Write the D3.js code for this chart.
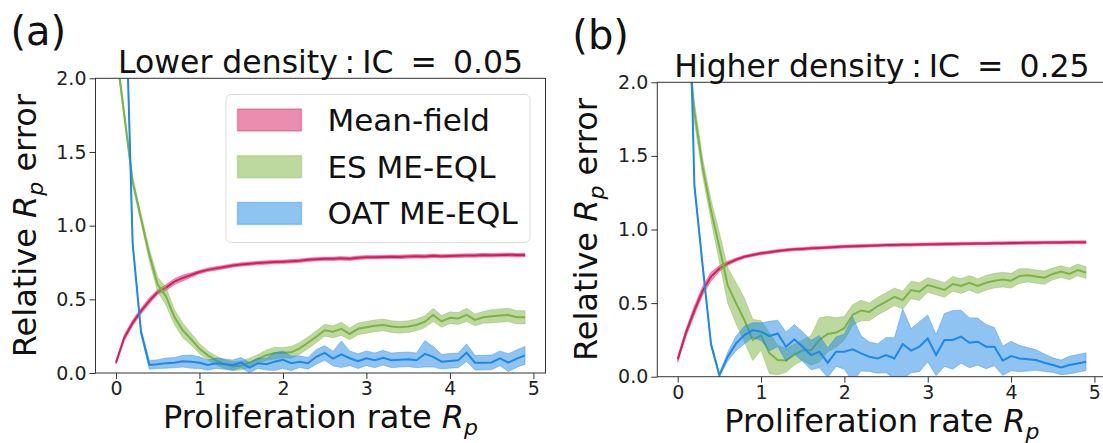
<!DOCTYPE html>
<html>
<head>
<meta charset="utf-8">
<script src="https://cdn.jsdelivr.net/npm/d3@7"></script>
<style>
  body { margin: 0; background: #fff; }
  svg { font-family: "DejaVu Sans", sans-serif; }
</style>
</head>
<body>
<svg id="chart" width="1103" height="443"></svg>
<script>
// proliferation rate grid
const rp = [0, 0.1, 0.2, 0.3, 0.4, 0.5, 0.6, 0.7, 0.8, 0.9,
  1.0, 1.1, 1.2, 1.3, 1.4, 1.5, 1.6, 1.7, 1.8, 1.9,
  2.0, 2.1, 2.2, 2.3, 2.4, 2.5, 2.6, 2.7, 2.8, 2.9,
  3.0, 3.1, 3.2, 3.3, 3.4, 3.5, 3.6, 3.7, 3.8, 3.9,
  4.0, 4.1, 4.2, 4.3, 4.4, 4.5, 4.6, 4.7, 4.8, 4.9];

const xTicks = [0, 1, 2, 3, 4, 5];
const yTicks = [0, 0.5, 1.0, 1.5, 2.0];
const seriesNames = ["Mean-field", "ES ME-EQL", "OAT ME-EQL"];
const seriesColors = ["#D81B60", "#7CB342", "#1E88E5"];

// (a) IC = 0.05
const mfA = [0.07, 0.24, 0.34, 0.42, 0.49, 0.55, 0.58, 0.62, 0.645, 0.665,
  0.685, 0.70, 0.71, 0.72, 0.73, 0.737, 0.742, 0.746, 0.75, 0.753,
  0.755, 0.758, 0.762, 0.768, 0.772, 0.775, 0.776, 0.778, 0.776, 0.782,
  0.785, 0.786, 0.787, 0.789, 0.788, 0.79, 0.792, 0.791, 0.795, 0.793,
  0.794, 0.796, 0.797, 0.797, 0.80, 0.799, 0.801, 0.802, 0.80, 0.80];
const mfAErr = [0.01, 0.02, 0.02, 0.02, 0.02, 0.015, 0.02, 0.02, 0.02, 0.015,
  0.012, 0.012, 0.012, 0.012, 0.012, 0.012, 0.012, 0.012, 0.012, 0.012,
  0.012, 0.012, 0.012, 0.012, 0.012, 0.012, 0.012, 0.012, 0.012, 0.012,
  0.012, 0.012, 0.012, 0.012, 0.012, 0.012, 0.012, 0.012, 0.012, 0.012,
  0.012, 0.012, 0.012, 0.012, 0.012, 0.012, 0.012, 0.012, 0.012, 0.012];
const esA = [2.2, 1.75, 1.3, 1.05, 0.8, 0.6, 0.52, 0.38, 0.29, 0.23,
  0.165, 0.12, 0.085, 0.06, 0.045, 0.05, 0.07, 0.095, 0.12, 0.135,
  0.138, 0.14, 0.167, 0.205, 0.246, 0.29, 0.28, 0.30, 0.265, 0.30,
  0.31, 0.32, 0.326, 0.315, 0.31, 0.315, 0.326, 0.348, 0.394, 0.35,
  0.375, 0.37, 0.394, 0.36, 0.378, 0.385, 0.39, 0.394, 0.378, 0.378];
const esAErr = [0.05, 0.03, 0.03, 0.03, 0.04, 0.05, 0.06, 0.05, 0.05, 0.04,
  0.035, 0.03, 0.03, 0.03, 0.03, 0.03, 0.03, 0.03, 0.035, 0.04,
  0.035, 0.04, 0.04, 0.04, 0.04, 0.04, 0.04, 0.045, 0.04, 0.04,
  0.04, 0.04, 0.04, 0.04, 0.04, 0.04, 0.04, 0.04, 0.045, 0.04,
  0.04, 0.04, 0.045, 0.04, 0.04, 0.045, 0.045, 0.045, 0.045, 0.045];
const oatA = [5.0, 2.9, 0.88, 0.28, 0.055, 0.06, 0.067, 0.07, 0.08, 0.077,
  0.07, 0.054, 0.066, 0.06, 0.054, 0.07, 0.036, 0.066, 0.06, 0.077,
  0.09, 0.066, 0.077, 0.066, 0.11, 0.136, 0.098, 0.127, 0.10, 0.08,
  0.10, 0.086, 0.104, 0.086, 0.09, 0.093, 0.086, 0.13, 0.11, 0.077,
  0.082, 0.086, 0.138, 0.07, 0.07, 0.072, 0.1, 0.07, 0.098, 0.12];
const oatAErr = [0.05, 0.03, 0.02, 0.02, 0.03, 0.03, 0.035, 0.035, 0.04, 0.045,
  0.04, 0.035, 0.035, 0.035, 0.035, 0.035, 0.035, 0.035, 0.04, 0.06,
  0.06, 0.05, 0.04, 0.04, 0.05, 0.05, 0.05, 0.09, 0.05, 0.05,
  0.05, 0.05, 0.05, 0.05, 0.05, 0.05, 0.05, 0.09, 0.07, 0.05,
  0.05, 0.05, 0.06, 0.05, 0.05, 0.05, 0.05, 0.06, 0.06, 0.06];

// (b) IC = 0.25
const mfB = [0.118, 0.30, 0.45, 0.585, 0.68, 0.735, 0.77, 0.795, 0.815, 0.827,
  0.838, 0.846, 0.854, 0.86, 0.865, 0.868, 0.872, 0.875, 0.878, 0.881,
  0.884, 0.886, 0.888, 0.89, 0.892, 0.894, 0.895, 0.896, 0.897, 0.898,
  0.899, 0.90, 0.901, 0.902, 0.903, 0.904, 0.905, 0.905, 0.906, 0.907,
  0.908, 0.909, 0.91, 0.91, 0.911, 0.912, 0.912, 0.913, 0.913, 0.914];
const mfBErr = [0.02, 0.025, 0.03, 0.03, 0.03, 0.02, 0.015, 0.012, 0.01, 0.01,
  0.01, 0.01, 0.01, 0.01, 0.01, 0.01, 0.01, 0.01, 0.01, 0.01,
  0.01, 0.01, 0.01, 0.01, 0.01, 0.01, 0.01, 0.01, 0.01, 0.01,
  0.01, 0.01, 0.01, 0.01, 0.01, 0.01, 0.01, 0.01, 0.01, 0.01,
  0.01, 0.01, 0.01, 0.01, 0.01, 0.01, 0.01, 0.01, 0.01, 0.01];
const esB = [3.2, 2.4, 1.8, 1.42, 1.13, 0.88, 0.62, 0.5, 0.385, 0.25,
  0.28, 0.16, 0.114, 0.11, 0.15, 0.18, 0.18, 0.25, 0.29, 0.30,
  0.33, 0.42, 0.45, 0.44, 0.48, 0.51, 0.543, 0.52, 0.589, 0.578,
  0.623, 0.607, 0.589, 0.63, 0.616, 0.638, 0.616, 0.638, 0.652, 0.66,
  0.652, 0.684, 0.689, 0.68, 0.673, 0.698, 0.714, 0.698, 0.725, 0.707];
const esBErr = [0.1, 0.08, 0.07, 0.06, 0.07, 0.1, 0.12, 0.14, 0.15, 0.14,
  0.1, 0.14, 0.1, 0.08, 0.07, 0.07, 0.1, 0.15, 0.12, 0.1,
  0.08, 0.07, 0.07, 0.06, 0.06, 0.06, 0.06, 0.06, 0.06, 0.06,
  0.05, 0.05, 0.05, 0.05, 0.05, 0.05, 0.05, 0.05, 0.05, 0.05,
  0.05, 0.05, 0.045, 0.045, 0.045, 0.04, 0.04, 0.04, 0.04, 0.04];
const oatB = [5.0, 3.6, 1.3, 0.75, 0.22, 0.01, 0.136, 0.226, 0.283, 0.317,
  0.306, 0.276, 0.294, 0.204, 0.254, 0.204, 0.147, 0.17, 0.095, 0.17,
  0.17, 0.186, 0.158, 0.136, 0.124, 0.147, 0.124, 0.222, 0.177, 0.204,
  0.26, 0.147, 0.25, 0.25, 0.272, 0.231, 0.238, 0.204, 0.204, 0.109,
  0.14, 0.124, 0.118, 0.113, 0.095, 0.079, 0.063, 0.079, 0.09, 0.102];
const oatBErr = [0.05, 0.03, 0.02, 0.02, 0.02, 0.01, 0.03, 0.05, 0.06, 0.05,
  0.06, 0.1, 0.09, 0.1, 0.1, 0.1, 0.1, 0.11, 0.1, 0.1,
  0.12, 0.22, 0.12, 0.1, 0.1, 0.12, 0.14, 0.24, 0.15, 0.17,
  0.16, 0.14, 0.18, 0.2, 0.18, 0.17, 0.16, 0.15, 0.13, 0.1,
  0.1, 0.09, 0.08, 0.07, 0.06, 0.05, 0.05, 0.06, 0.06, 0.06];

const panels = [
  { id: "a", label: "(a)", title: ["Lower density", ":", "IC", "=", "0.05"],
    left: 95.5, right: 545.5, top: 78.3, bottom: 373, legend: true,
    series: [[mfA, mfAErr], [esA, esAErr], [oatA, oatAErr]] },
  { id: "b", label: "(b)", title: ["Higher density", ":", "IC", "=", "0.25"],
    left: 657.3, right: 1106.5, top: 82.3, bottom: 376.7, legend: false,
    series: [[mfB, mfBErr], [esB, esBErr], [oatB, oatBErr]] }
];

const svg = d3.select("#chart");

function drawPanel(p) {
  const x = d3.scaleLinear().domain([-0.245, 5.145]).range([p.left, p.right]);
  const y = d3.scaleLinear().domain([0, 2]).range([p.bottom, p.top]);
  const g = svg.append("g");

  g.append("clipPath")
    .attr("id", "clip-" + p.id)
    .append("rect")
    .attr("x", p.left)
    .attr("y", p.top)
    .attr("width", p.right - p.left)
    .attr("height", p.bottom - p.top);

  const plot = g.append("g").attr("clip-path", "url(#clip-" + p.id + ")");

  p.series.forEach(function(s, k) {
    const vals = s[0];
    const err = s[1];
    const area = d3.area()
      .x(function(d, i) { return x(rp[i]); })
      .y0(function(d, i) { return y(d - err[i]); })
      .y1(function(d, i) { return y(d + err[i]); });
    const line = d3.line()
      .x(function(d, i) { return x(rp[i]); })
      .y(function(d) { return y(d); });

    plot.append("path")
      .attr("d", area(vals))
      .attr("fill", seriesColors[k])
      .attr("fill-opacity", 0.5)
      .attr("stroke", seriesColors[k])
      .attr("stroke-opacity", 0.35)
      .attr("stroke-width", 1);

    plot.append("path")
      .attr("d", line(vals))
      .attr("fill", "none")
      .attr("stroke", seriesColors[k])
      .attr("stroke-width", 2);
  });

  // axes
  const yAxis = g.append("g")
    .attr("transform", "translate(" + p.left + ",0)")
    .call(d3.axisLeft(y).tickValues(yTicks).tickFormat(d3.format(".1f"))
      .tickSize(6).tickPadding(3));
  const xAxis = g.append("g")
    .attr("transform", "translate(0," + p.bottom + ")")
    .call(d3.axisBottom(x).tickValues(xTicks).tickFormat(d3.format("d"))
      .tickSize(6).tickPadding(3));
  [yAxis, xAxis].forEach(function(a) {
    a.select(".domain").remove();
    a.selectAll("line").attr("stroke", "#333");
    a.selectAll("text")
      .attr("font-size", "19px")
      .attr("font-family", "DejaVu Sans")
      .attr("fill", "#222");
  });

  // spines
  g.append("rect")
    .attr("x", p.left)
    .attr("y", p.top)
    .attr("width", p.right - p.left)
    .attr("height", p.bottom - p.top)
    .attr("fill", "none")
    .attr("stroke", "#333")
    .attr("stroke-width", 1);

  const cx = (p.left + p.right) / 2;

  // title
  const gaps = [0, 9, 7, 17, 16];
  const title = g.append("text")
    .attr("x", cx)
    .attr("y", p.top - 5)
    .attr("text-anchor", "middle")
    .attr("font-size", "31.5px")
    .attr("fill", "#111");
  p.title.forEach(function(t, i) {
    title.append("tspan").attr("dx", gaps[i]).text(t);
  });

  // panel label
  svg.append("text")
    .attr("x", p.left - 85)
    .attr("y", p.top - 33)
    .attr("font-size", "40px")
    .attr("fill", "#111")
    .text(p.label);

  // y label
  const yl = g.append("text")
    .attr("transform", "translate(" + (p.left - 60) + "," + ((p.top + p.bottom) / 2) + ") rotate(-90)")
    .attr("text-anchor", "middle")
    .attr("font-size", "32px")
    .attr("fill", "#111");
  yl.append("tspan").text("Relative ");
  yl.append("tspan").attr("font-style", "italic").text("R");
  yl.append("tspan").attr("font-style", "italic").attr("font-size", "22px").attr("dy", 7).text("p");
  yl.append("tspan").attr("dy", -7).text(" error");

  // x label
  const xl = g.append("text")
    .attr("x", cx)
    .attr("y", p.bottom + 55)
    .attr("text-anchor", "middle")
    .attr("font-size", "32px")
    .attr("fill", "#111");
  xl.append("tspan").text("Proliferation rate ");
  xl.append("tspan").attr("font-style", "italic").text("R");
  xl.append("tspan").attr("font-style", "italic").attr("font-size", "22px").attr("dy", 7).text("p");

  if (p.legend) drawLegend(g);
}

function drawLegend(g) {
  const lg = g.append("g").attr("transform", "translate(226,94.5)");
  lg.append("rect")
    .attr("width", 304)
    .attr("height", 148)
    .attr("rx", 5)
    .attr("fill", "#fff")
    .attr("fill-opacity", 0.8)
    .attr("stroke", "#dcdcdc")
    .attr("stroke-width", 1);

  const rows = lg.selectAll("g.row")
    .data(seriesNames)
    .enter()
    .append("g")
    .attr("class", "row")
    .attr("transform", function(d, i) { return "translate(0," + (14.5 + i * 46.7) + ")"; });

  rows.append("rect")
    .attr("x", 11.5)
    .attr("width", 64)
    .attr("height", 22)
    .attr("fill", function(d, i) { return seriesColors[i]; })
    .attr("fill-opacity", 0.5)
    .attr("stroke", function(d, i) { return seriesColors[i]; })
    .attr("stroke-opacity", 0.35)
    .attr("stroke-width", 1.5);

  rows.append("text")
    .attr("x", 101.5)
    .attr("y", 22)
    .attr("font-size", "31px")
    .attr("fill", "#111")
    .text(function(d) { return d; });
}

panels.forEach(drawPanel);
</script>
</body>
</html>
